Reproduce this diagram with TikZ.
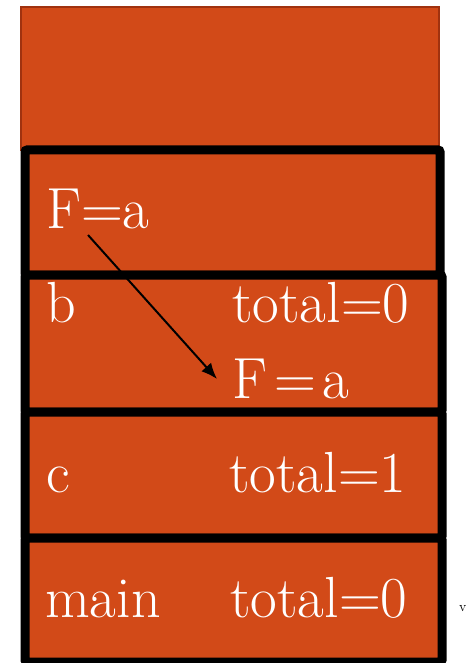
\documentclass[tikz,border=0pt]{standalone}
\usepackage{fontspec}
\usetikzlibrary{arrows.meta}
\definecolor{frameorange}{RGB}{210,74,24}
\definecolor{frameedge}{RGB}{160,50,15}
\begin{document}
\begin{tikzpicture}[x=1pt,y=-1pt,
  topbox/.style={draw=frameedge,line width=1.2pt,fill=frameorange,inner sep=0pt,rectangle},
  framebox/.style={draw=black,line width=9pt,fill=frameorange,inner sep=0pt,rectangle,rounded corners=2pt},
  lbl/.style={text=white,anchor=base west,inner sep=0pt,font=\fontsize{58}{66}\selectfont},
  ptr/.style={draw=black,line width=2pt,-{Latex[length=16pt,width=13pt]}}]
\useasboundingbox (0,0) rectangle (468,663);
\node[topbox,minimum width=418pt,minimum height=143pt] (top) at (230,78.5) {};
\node[framebox,minimum width=415pt,minimum height=125pt] (f1) at (232.5,212.5) {};
\node[framebox,minimum width=417pt,minimum height=137pt] (f2) at (233.5,343.5) {};
\node[framebox,minimum width=417pt,minimum height=126pt] (f3) at (233.5,475) {};
\node[framebox,minimum width=417pt,minimum height=124pt] (f4) at (233.5,600) {};
\node[lbl] (fa) at (46,228) {F=a};
\node[lbl] (b) at (46,322) {b};
\node[lbl] (tb) at (232,322) {total=0};
\node[lbl] (fb) at (232,398) {F\hspace{0.12em}=\hspace{0.12em}a};
\node[lbl] (c) at (46,492) {c};
\node[lbl] (tc) at (229,492) {total=1};
\node[lbl] (m) at (45,617) {main};
\node[lbl] (tm) at (230,617) {total=0};
\node[anchor=base west,inner sep=0pt,font=\fontsize{14}{16}\selectfont] (v) at (459,611) {v};
\coordinate (as) at (88,235);
\coordinate (ae) at (217,379);
\draw[ptr] (as) -- (ae);
\end{tikzpicture}
\end{document}
